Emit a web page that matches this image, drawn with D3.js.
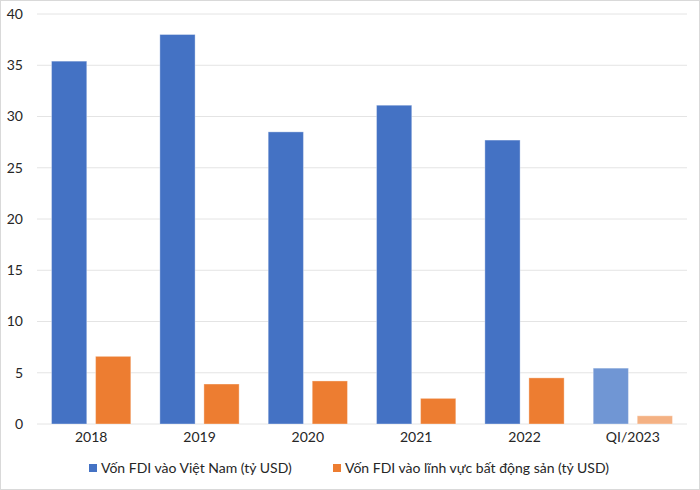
<!DOCTYPE html>
<html>
<head>
<meta charset="utf-8">
<script src="https://cdn.jsdelivr.net/npm/d3@7"></script>
<style>
  body { margin: 0; background: #fff; }
  svg { display: block; font-family: Lato, "Open Sans", sans-serif; }
</style>
</head>
<body>
<svg id="chart" width="700" height="490"></svg>
<script>
const categories = ["2018", "2019", "2020", "2021", "2022", "QI/2023"];
const fdiVietnam = [35.4, 38.0, 28.5, 31.1, 27.7, 5.45];
const fdiRealEstate = [6.6, 3.9, 4.2, 2.5, 4.5, 0.8];
const yTicks = [0, 5, 10, 15, 20, 25, 30, 35, 40];
const seriesNames = ["Vốn FDI vào Việt Nam (tỷ USD)", "Vốn FDI vào lĩnh vực bất động sản (tỷ USD)"];

const colors = ["#4472C4", "#ED7D31"];
const lightColors = ["#7096D4", "#F4B183"];

const width = 700, height = 490;
const margin = { top: 14, right: 13, bottom: 66, left: 37 };
const fontSize = 14;
const textColor = "#262626";

const svg = d3.select("#chart");

// outer frame
svg.append("rect")
    .attr("x", 0.5).attr("y", 0.5)
    .attr("width", width - 1).attr("height", height - 1)
    .attr("fill", "#fff").attr("stroke", "#d9d9d9");

const x = d3.scaleBand()
    .domain(categories)
    .range([margin.left, width - margin.right]);

const inner = d3.scaleBand()
    .domain([0, 1])
    .range([0, x.bandwidth()])
    .paddingInner(0.2)
    .paddingOuter(0.33);

const y = d3.scaleLinear()
    .domain([0, 40])
    .range([height - margin.bottom, margin.top]);

// gridlines
svg.append("g")
    .selectAll("line")
    .data(yTicks)
    .enter().append("line")
    .attr("x1", margin.left).attr("x2", width - margin.right)
    .attr("y1", d => y(d)).attr("y2", d => y(d))
    .attr("stroke", "#e4e4e4").attr("stroke-width", 1);

// y axis labels
const yAxis = svg.append("g")
    .attr("transform", `translate(${margin.left - 14},0)`)
    .call(d3.axisLeft(y).tickValues(yTicks).tickSize(0).tickPadding(0));
yAxis.select(".domain").remove();
yAxis.selectAll("text")
    .attr("font-size", fontSize).attr("fill", textColor)
    .style("font-family", "Lato, 'Open Sans', sans-serif");

// bars
const series = [fdiVietnam, fdiRealEstate];
series.forEach((vals, si) => {
    svg.append("g")
        .selectAll("rect")
        .data(vals)
        .enter().append("rect")
        .attr("x", (d, i) => x(categories[i]) + inner(si))
        .attr("y", d => y(d))
        .attr("width", inner.bandwidth())
        .attr("height", d => y(0) - y(d))
        .attr("fill", (d, i) => i === categories.length - 1 ? lightColors[si] : colors[si])
        .attr("stroke", "rgba(255,255,255,0.35)")
        .attr("stroke-width", 1);
});

// x axis labels
const xAxis = svg.append("g")
    .attr("transform", `translate(0,${y(0) + 8})`)
    .call(d3.axisBottom(x).tickSize(0).tickPadding(0));
xAxis.select(".domain").remove();
xAxis.selectAll("text")
    .attr("font-size", fontSize).attr("fill", textColor)
    .style("font-family", "Lato, 'Open Sans', sans-serif");

// legend
const legendItems = [
    { name: seriesNames[0], color: colors[0], x: 89 },
    { name: seriesNames[1], color: colors[1], x: 333 }
];
const legend = svg.append("g");
legendItems.forEach(item => {
    legend.append("rect")
        .attr("x", item.x).attr("y", 464)
        .attr("width", 8).attr("height", 8)
        .attr("fill", item.color);
    legend.append("text")
        .attr("x", item.x + 12).attr("y", 468)
        .attr("dy", "0.35em")
        .attr("font-size", fontSize).attr("fill", textColor)
        .text(item.name);
});
</script>
</body>
</html>
